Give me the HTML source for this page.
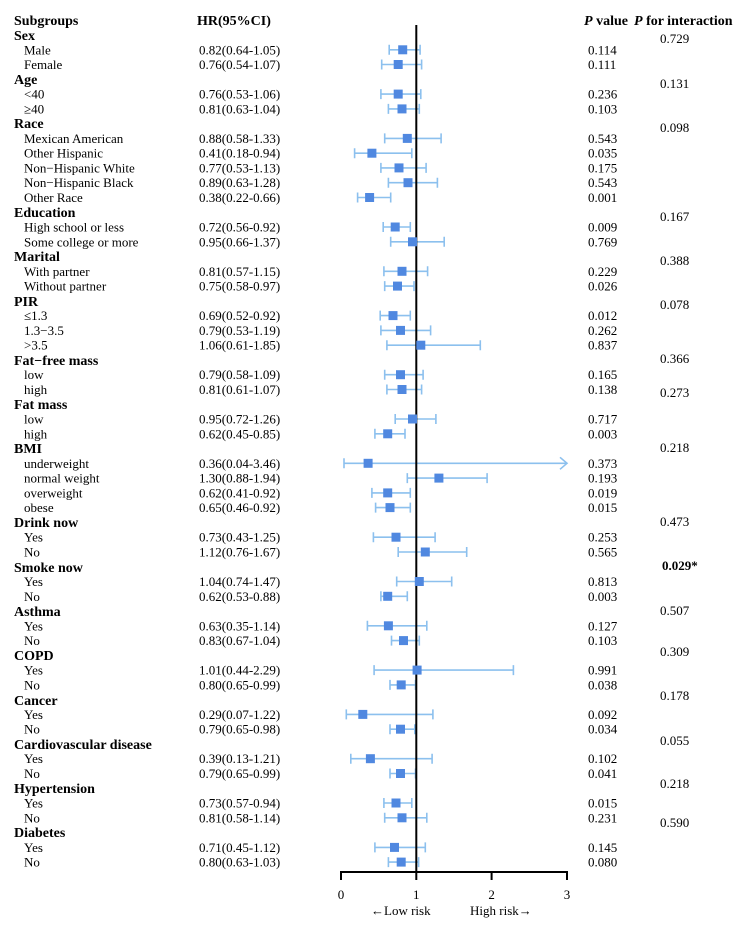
<!DOCTYPE html>
<html><head><meta charset="utf-8"><style>
html,body{margin:0;padding:0;background:#fff;}
svg{display:block;}
text{font-family:"Liberation Serif",serif;font-size:13px;fill:#000;}
.b{font-weight:bold;font-size:14px;}
.ci{stroke:#8cc0ee;stroke-width:1.6;fill:none;}
.sq{fill:#5088e0;}
</style></head><body>
<svg width="734" height="945" viewBox="0 0 734 945" xmlns="http://www.w3.org/2000/svg">
<!-- headers -->
<text class="b" x="14" y="25">Subgroups</text>
<text class="b" x="197" y="25">HR(95%CI)</text>
<text class="b" x="584" y="25"><tspan font-style="italic">P</tspan> value</text>
<text class="b" x="634" y="25"><tspan font-style="italic">P</tspan> for interaction</text>

<!-- group headers -->
<g class="b">
<text class="b" x="14" y="40">Sex</text>
<text class="b" x="14" y="84">Age</text>
<text class="b" x="14" y="128">Race</text>
<text class="b" x="14" y="217">Education</text>
<text class="b" x="14" y="261">Marital</text>
<text class="b" x="14" y="306">PIR</text>
<text class="b" x="14" y="365">Fat−free mass</text>
<text class="b" x="14" y="409">Fat mass</text>
<text class="b" x="14" y="453">BMI</text>
<text class="b" x="14" y="527">Drink now</text>
<text class="b" x="14" y="572">Smoke now</text>
<text class="b" x="14" y="616">Asthma</text>
<text class="b" x="14" y="660">COPD</text>
<text class="b" x="14" y="705">Cancer</text>
<text class="b" x="14" y="749">Cardiovascular disease</text>
<text class="b" x="14" y="793">Hypertension</text>
<text class="b" x="14" y="837">Diabetes</text>
</g>

<!-- sub labels -->
<g>
<text x="24" y="54.3">Male</text><text x="199" y="54.3">0.82(0.64-1.05)</text><text x="588" y="54.3">0.114</text>
<text x="24" y="69">Female</text><text x="199" y="69">0.76(0.54-1.07)</text><text x="588" y="69">0.111</text>
<text x="24" y="98.6">&lt;40</text><text x="199" y="98.6">0.76(0.53-1.06)</text><text x="588" y="98.6">0.236</text>
<text x="24" y="113.4">≥40</text><text x="199" y="113.4">0.81(0.63-1.04)</text><text x="588" y="113.4">0.103</text>
<text x="24" y="142.9">Mexican American</text><text x="199" y="142.9">0.88(0.58-1.33)</text><text x="588" y="142.9">0.543</text>
<text x="24" y="157.7">Other Hispanic</text><text x="199" y="157.7">0.41(0.18-0.94)</text><text x="588" y="157.7">0.035</text>
<text x="24" y="172.4">Non−Hispanic White</text><text x="199" y="172.4">0.77(0.53-1.13)</text><text x="588" y="172.4">0.175</text>
<text x="24" y="187.2">Non−Hispanic Black</text><text x="199" y="187.2">0.89(0.63-1.28)</text><text x="588" y="187.2">0.543</text>
<text x="24" y="202">Other Race</text><text x="199" y="202">0.38(0.22-0.66)</text><text x="588" y="202">0.001</text>
<text x="24" y="231.5">High school or less</text><text x="199" y="231.5">0.72(0.56-0.92)</text><text x="588" y="231.5">0.009</text>
<text x="24" y="246.3">Some college or more</text><text x="199" y="246.3">0.95(0.66-1.37)</text><text x="588" y="246.3">0.769</text>
<text x="24" y="275.8">With partner</text><text x="199" y="275.8">0.81(0.57-1.15)</text><text x="588" y="275.8">0.229</text>
<text x="24" y="290.6">Without partner</text><text x="199" y="290.6">0.75(0.58-0.97)</text><text x="588" y="290.6">0.026</text>
<text x="24" y="320.1">≤1.3</text><text x="199" y="320.1">0.69(0.52-0.92)</text><text x="588" y="320.1">0.012</text>
<text x="24" y="334.9">1.3−3.5</text><text x="199" y="334.9">0.79(0.53-1.19)</text><text x="588" y="334.9">0.262</text>
<text x="24" y="349.7">&gt;3.5</text><text x="199" y="349.7">1.06(0.61-1.85)</text><text x="588" y="349.7">0.837</text>
<text x="24" y="379.2">low</text><text x="199" y="379.2">0.79(0.58-1.09)</text><text x="588" y="379.2">0.165</text>
<text x="24" y="394">high</text><text x="199" y="394">0.81(0.61-1.07)</text><text x="588" y="394">0.138</text>
<text x="24" y="423.5">low</text><text x="199" y="423.5">0.95(0.72-1.26)</text><text x="588" y="423.5">0.717</text>
<text x="24" y="438.3">high</text><text x="199" y="438.3">0.62(0.45-0.85)</text><text x="588" y="438.3">0.003</text>
<text x="24" y="467.8">underweight</text><text x="199" y="467.8">0.36(0.04-3.46)</text><text x="588" y="467.8">0.373</text>
<text x="24" y="482.6">normal weight</text><text x="199" y="482.6">1.30(0.88-1.94)</text><text x="588" y="482.6">0.193</text>
<text x="24" y="497.4">overweight</text><text x="199" y="497.4">0.62(0.41-0.92)</text><text x="588" y="497.4">0.019</text>
<text x="24" y="512.1">obese</text><text x="199" y="512.1">0.65(0.46-0.92)</text><text x="588" y="512.1">0.015</text>
<text x="24" y="541.7">Yes</text><text x="199" y="541.7">0.73(0.43-1.25)</text><text x="588" y="541.7">0.253</text>
<text x="24" y="556.5">No</text><text x="199" y="556.5">1.12(0.76-1.67)</text><text x="588" y="556.5">0.565</text>
<text x="24" y="586">Yes</text><text x="199" y="586">1.04(0.74-1.47)</text><text x="588" y="586">0.813</text>
<text x="24" y="600.8">No</text><text x="199" y="600.8">0.62(0.53-0.88)</text><text x="588" y="600.8">0.003</text>
<text x="24" y="630.3">Yes</text><text x="199" y="630.3">0.63(0.35-1.14)</text><text x="588" y="630.3">0.127</text>
<text x="24" y="645.1">No</text><text x="199" y="645.1">0.83(0.67-1.04)</text><text x="588" y="645.1">0.103</text>
<text x="24" y="674.6">Yes</text><text x="199" y="674.6">1.01(0.44-2.29)</text><text x="588" y="674.6">0.991</text>
<text x="24" y="689.4">No</text><text x="199" y="689.4">0.80(0.65-0.99)</text><text x="588" y="689.4">0.038</text>
<text x="24" y="718.9">Yes</text><text x="199" y="718.9">0.29(0.07-1.22)</text><text x="588" y="718.9">0.092</text>
<text x="24" y="733.7">No</text><text x="199" y="733.7">0.79(0.65-0.98)</text><text x="588" y="733.7">0.034</text>
<text x="24" y="763.2">Yes</text><text x="199" y="763.2">0.39(0.13-1.21)</text><text x="588" y="763.2">0.102</text>
<text x="24" y="778">No</text><text x="199" y="778">0.79(0.65-0.99)</text><text x="588" y="778">0.041</text>
<text x="24" y="807.5">Yes</text><text x="199" y="807.5">0.73(0.57-0.94)</text><text x="588" y="807.5">0.015</text>
<text x="24" y="822.3">No</text><text x="199" y="822.3">0.81(0.58-1.14)</text><text x="588" y="822.3">0.231</text>
<text x="24" y="851.9">Yes</text><text x="199" y="851.9">0.71(0.45-1.12)</text><text x="588" y="851.9">0.145</text>
<text x="24" y="866.6">No</text><text x="199" y="866.6">0.80(0.63-1.03)</text><text x="588" y="866.6">0.080</text>
</g>

<!-- interaction p -->
<g>
<text x="660" y="43">0.729</text>
<text x="660" y="88">0.131</text>
<text x="660" y="132">0.098</text>
<text x="660" y="221">0.167</text>
<text x="660" y="265">0.388</text>
<text x="660" y="309">0.078</text>
<text x="660" y="363">0.366</text>
<text x="660" y="397">0.273</text>
<text x="660" y="452">0.218</text>
<text x="660" y="526">0.473</text>
<text x="662" y="570" font-weight="bold">0.029*</text>
<text x="660" y="615">0.507</text>
<text x="660" y="656">0.309</text>
<text x="660" y="700">0.178</text>
<text x="660" y="745">0.055</text>
<text x="660" y="788">0.218</text>
<text x="660" y="827">0.590</text>
</g>

<!-- CIs -->
<g class="ci">
<path d="M389.2 49.8H420.1M389.2 44.8V54.8M420.1 44.8V54.8"/>
<path d="M381.7 64.5H421.6M381.7 59.5V69.5M421.6 59.5V69.5"/>
<path d="M380.9 94.1H420.8M380.9 89.1V99.1M420.8 89.1V99.1"/>
<path d="M388.4 108.9H419.3M388.4 103.9V113.9M419.3 103.9V113.9"/>
<path d="M384.7 138.4H441.1M384.7 133.4V143.4M441.1 133.4V143.4"/>
<path d="M354.6 153.2H411.8M354.6 148.2V158.2M411.8 148.2V158.2"/>
<path d="M380.9 167.9H426.1M380.9 162.9V172.9M426.1 162.9V172.9"/>
<path d="M388.4 182.7H437.4M388.4 177.7V187.7M437.4 177.7V187.7"/>
<path d="M357.6 197.5H390.7M357.6 192.5V202.5M390.7 192.5V202.5"/>
<path d="M383.2 227H410.3M383.2 222V232M410.3 222V232"/>
<path d="M390.7 241.8H444.2M390.7 236.8V246.8M444.2 236.8V246.8"/>
<path d="M383.9 271.3H427.6M383.9 266.3V276.3M427.6 266.3V276.3"/>
<path d="M384.7 286.1H414M384.7 281.1V291.1M414 281.1V291.1"/>
<path d="M380.2 315.6H410.3M380.2 310.6V320.6M410.3 310.6V320.6"/>
<path d="M380.9 330.4H430.6M380.9 325.4V335.4M430.6 325.4V335.4"/>
<path d="M386.9 345.2H480.3M386.9 340.2V350.2M480.3 340.2V350.2"/>
<path d="M384.7 374.7H423.1M384.7 369.7V379.7M423.1 369.7V379.7"/>
<path d="M386.9 389.5H421.6M386.9 384.5V394.5M421.6 384.5V394.5"/>
<path d="M395.2 419H435.9M395.2 414V424M435.9 414V424"/>
<path d="M374.9 433.8H405M374.9 428.8V438.8M405 428.8V438.8"/>
<path d="M344 463.3H567M344 458.3V468.3M560 457.3L567 463.3L560 469.3"/>
<path d="M407.3 478.1H487.1M407.3 473.1V483.1M487.1 473.1V483.1"/>
<path d="M371.9 492.9H410.3M371.9 487.9V497.9M410.3 487.9V497.9"/>
<path d="M375.6 507.6H410.3M375.6 502.6V512.6M410.3 502.6V512.6"/>
<path d="M373.4 537.2H435.1M373.4 532.2V542.2M435.1 532.2V542.2"/>
<path d="M398.2 552H466.7M398.2 547V557M466.7 547V557"/>
<path d="M396.7 581.5H451.7M396.7 576.5V586.5M451.7 576.5V586.5"/>
<path d="M380.9 596.3H407.3M380.9 591.3V601.3M407.3 591.3V601.3"/>
<path d="M367.4 625.8H426.8M367.4 620.8V630.8M426.8 620.8V630.8"/>
<path d="M391.5 640.6H419.3M391.5 635.6V645.6M419.3 635.6V645.6"/>
<path d="M374.1 670.1H513.4M374.1 665.1V675.1M513.4 665.1V675.1"/>
<path d="M390 684.9H415.5M390 679.9V689.9M415.5 679.9V689.9"/>
<path d="M346.3 714.4H432.9M346.3 709.4V719.4M432.9 709.4V719.4"/>
<path d="M390 729.2H414.8M390 724.2V734.2M414.8 724.2V734.2"/>
<path d="M350.8 758.7H432.1M350.8 753.7V763.7M432.1 753.7V763.7"/>
<path d="M390 773.5H415.5M390 768.5V778.5M415.5 768.5V778.5"/>
<path d="M383.9 803H411.8M383.9 798V808M411.8 798V808"/>
<path d="M384.7 817.8H426.8M384.7 812.8V822.8M426.8 812.8V822.8"/>
<path d="M374.9 847.4H425.3M374.9 842.4V852.4M425.3 842.4V852.4"/>
<path d="M388.4 862.1H418.6M388.4 857.1V867.1M418.6 857.1V867.1"/>
</g>

<!-- reference line -->
<line x1="416.3" y1="25" x2="416.3" y2="872" stroke="#000" stroke-width="2"/>

<!-- squares -->
<g class="sq">
<rect x="398.2" y="45.3" width="9" height="9"/>
<rect x="393.7" y="60" width="9" height="9"/>
<rect x="393.7" y="89.6" width="9" height="9"/>
<rect x="397.5" y="104.4" width="9" height="9"/>
<rect x="402.8" y="133.9" width="9" height="9"/>
<rect x="367.4" y="148.7" width="9" height="9"/>
<rect x="394.5" y="163.4" width="9" height="9"/>
<rect x="403.5" y="178.2" width="9" height="9"/>
<rect x="365.1" y="193" width="9" height="9"/>
<rect x="390.7" y="222.5" width="9" height="9"/>
<rect x="408" y="237.3" width="9" height="9"/>
<rect x="397.5" y="266.8" width="9" height="9"/>
<rect x="393" y="281.6" width="9" height="9"/>
<rect x="388.5" y="311.1" width="9" height="9"/>
<rect x="396" y="325.9" width="9" height="9"/>
<rect x="416.3" y="340.7" width="9" height="9"/>
<rect x="396" y="370.2" width="9" height="9"/>
<rect x="397.5" y="385" width="9" height="9"/>
<rect x="408" y="414.5" width="9" height="9"/>
<rect x="383.2" y="429.3" width="9" height="9"/>
<rect x="363.6" y="458.8" width="9" height="9"/>
<rect x="434.4" y="473.6" width="9" height="9"/>
<rect x="383.2" y="488.4" width="9" height="9"/>
<rect x="385.5" y="503.1" width="9" height="9"/>
<rect x="391.5" y="532.7" width="9" height="9"/>
<rect x="420.8" y="547.5" width="9" height="9"/>
<rect x="414.8" y="577" width="9" height="9"/>
<rect x="383.2" y="591.8" width="9" height="9"/>
<rect x="383.9" y="621.3" width="9" height="9"/>
<rect x="399" y="636.1" width="9" height="9"/>
<rect x="412.6" y="665.6" width="9" height="9"/>
<rect x="396.7" y="680.4" width="9" height="9"/>
<rect x="358.3" y="709.9" width="9" height="9"/>
<rect x="396" y="724.7" width="9" height="9"/>
<rect x="365.9" y="754.2" width="9" height="9"/>
<rect x="396" y="769" width="9" height="9"/>
<rect x="391.5" y="798.5" width="9" height="9"/>
<rect x="397.5" y="813.3" width="9" height="9"/>
<rect x="390" y="842.9" width="9" height="9"/>
<rect x="396.7" y="857.6" width="9" height="9"/>
</g>

<!-- x axis -->
<g stroke="#000" stroke-width="2" fill="none">
<line x1="341" y1="872" x2="567" y2="872"/>
<line x1="341" y1="871" x2="341" y2="880"/>
<line x1="416.3" y1="871" x2="416.3" y2="880"/>
<line x1="491.6" y1="871" x2="491.6" y2="880"/>
<line x1="567" y1="871" x2="567" y2="880"/>
</g>
<text x="341" y="899" text-anchor="middle">0</text>
<text x="416.3" y="899" text-anchor="middle">1</text>
<text x="491.6" y="899" text-anchor="middle">2</text>
<text x="567" y="899" text-anchor="middle">3</text>
<text x="371" y="915">←Low risk</text>
<text x="470" y="915">High risk→</text>
</svg>
</body></html>
